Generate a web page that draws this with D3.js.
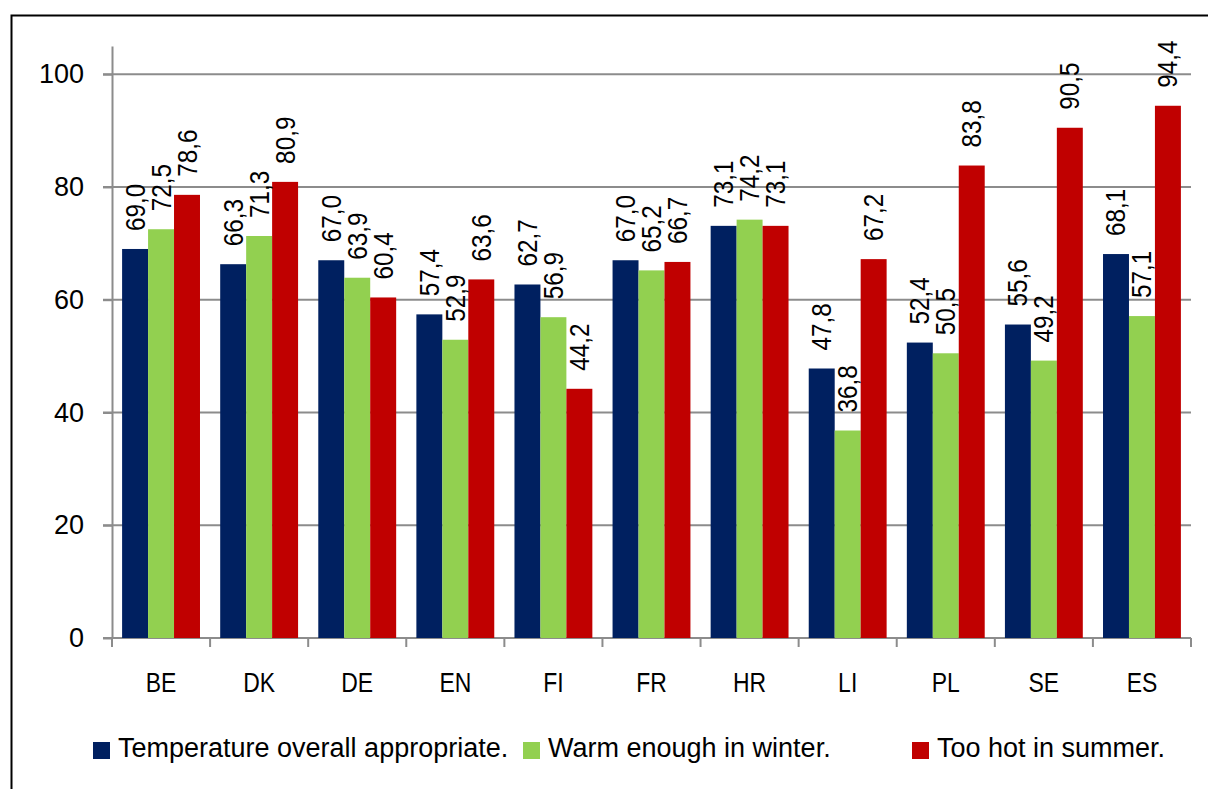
<!DOCTYPE html>
<html>
<head>
<meta charset="utf-8">
<script src="https://cdn.jsdelivr.net/npm/d3@7"></script>
<style>
  body { margin: 0; background: #fff; }
  text { font-family: "Liberation Sans", Arial, sans-serif; fill: #000; }
</style>
</head>
<body>
<svg id="chart" width="1208" height="789"></svg>
<script>
// data
var countries = ["BE", "DK", "DE", "EN", "FI", "FR", "HR", "LI", "PL", "SE", "ES"];
var seriesNames = ["Temperature overall appropriate.", "Warm enough in winter.", "Too hot in summer."];
var overall = [69.0, 66.3, 67.0, 57.4, 62.7, 67.0, 73.1, 47.8, 52.4, 55.6, 68.1];
var winter  = [72.5, 71.3, 63.9, 52.9, 56.9, 65.2, 74.2, 36.8, 50.5, 49.2, 57.1];
var summer  = [78.6, 80.9, 60.4, 63.6, 44.2, 66.7, 73.1, 67.2, 83.8, 90.5, 94.4];
var yTicks = [0, 20, 40, 60, 80, 100];
var colors = ["#002060", "#92D050", "#C00000"];

var W = 1208, H = 789;
var plotL = 112, plotR = 1191, plotT = 46, plotB = 638;
var gridCol = "#8c8c8c";

var svg = d3.select("#chart");

// outer frame (right and bottom edges fall outside the picture)
svg.append("rect")
  .attr("x", 11.5).attr("y", 15.5)
  .attr("width", W + 50).attr("height", H + 50)
  .attr("fill", "none").attr("stroke", "#000").attr("stroke-width", 2);

var y = d3.scaleLinear().domain([0, 105]).range([plotB, plotT]);
var x0 = d3.scaleBand().domain(countries).range([plotL, plotR]).padding(0);
var gap = x0.step() * 0.103;
var x1 = d3.scaleBand().domain([0, 1, 2]).range([gap, x0.step() - gap]).padding(0);

// gridlines
svg.append("g").selectAll("line").data(yTicks).join("line")
  .attr("x1", plotL - 9).attr("x2", plotR)
  .attr("y1", d => y(d)).attr("y2", d => y(d))
  .attr("stroke", gridCol).attr("stroke-width", 2);

// y axis
var yAxis = svg.append("g").attr("transform", "translate(" + plotL + ",0)")
  .call(d3.axisLeft(y).tickValues(yTicks).tickSize(9).tickSizeOuter(0).tickPadding(19));
yAxis.selectAll("path, line").attr("stroke", gridCol).attr("stroke-width", 2);
yAxis.selectAll("text").attr("font-size", 27).attr("font-family", null).attr("fill", "#000");

// x axis boundaries and labels
var bounds = countries.map(c => x0(c)).concat([x0(countries[countries.length - 1]) + x0.step()]);
svg.append("g").selectAll("line").data(bounds).join("line")
  .attr("x1", d => d).attr("x2", d => d)
  .attr("y1", plotB).attr("y2", plotB + 9)
  .attr("stroke", gridCol).attr("stroke-width", 2);
svg.append("g").selectAll("text").data(countries).join("text")
  .attr("transform", d => "translate(" + (x0(d) + x0.step() / 2) + ",692) scale(0.85,1)")
  .attr("text-anchor", "middle")
  .attr("font-size", 27)
  .text(d => d);

// bars
var rows = countries.map((c, i) => ({ c: c, vals: [overall[i], winter[i], summer[i]] }));
var fmt = d3.format(".1f");
var groups = svg.append("g").selectAll("g").data(rows).join("g")
  .attr("transform", d => "translate(" + x0(d.c) + ",0)");

groups.selectAll("rect").data(d => d.vals).join("rect")
  .attr("x", (d, i) => x1(i))
  .attr("width", x1.bandwidth())
  .attr("y", d => y(d))
  .attr("height", d => plotB - y(d))
  .attr("fill", (d, i) => colors[i]);

// rotated value labels
groups.selectAll("text").data(d => d.vals).join("text")
  .attr("transform", (d, i) => "translate(" + (x1(i) + x1.bandwidth() / 2 + 9.5) + "," + (y(d) - 18) + ") rotate(-90) scale(0.9,1)")
  .attr("font-size", 27)
  .text(d => fmt(d).replace(".", ","));

// legend
var legX = [93, 523, 912];
var leg = svg.append("g").selectAll("g").data(seriesNames).join("g")
  .attr("transform", (d, i) => "translate(" + legX[i] + ",742)");
leg.append("rect").attr("width", 17).attr("height", 17).attr("fill", (d, i) => colors[i]);
leg.append("text").attr("x", 25).attr("y", 15).attr("font-size", 27).text(d => d);
</script>
</body>
</html>
